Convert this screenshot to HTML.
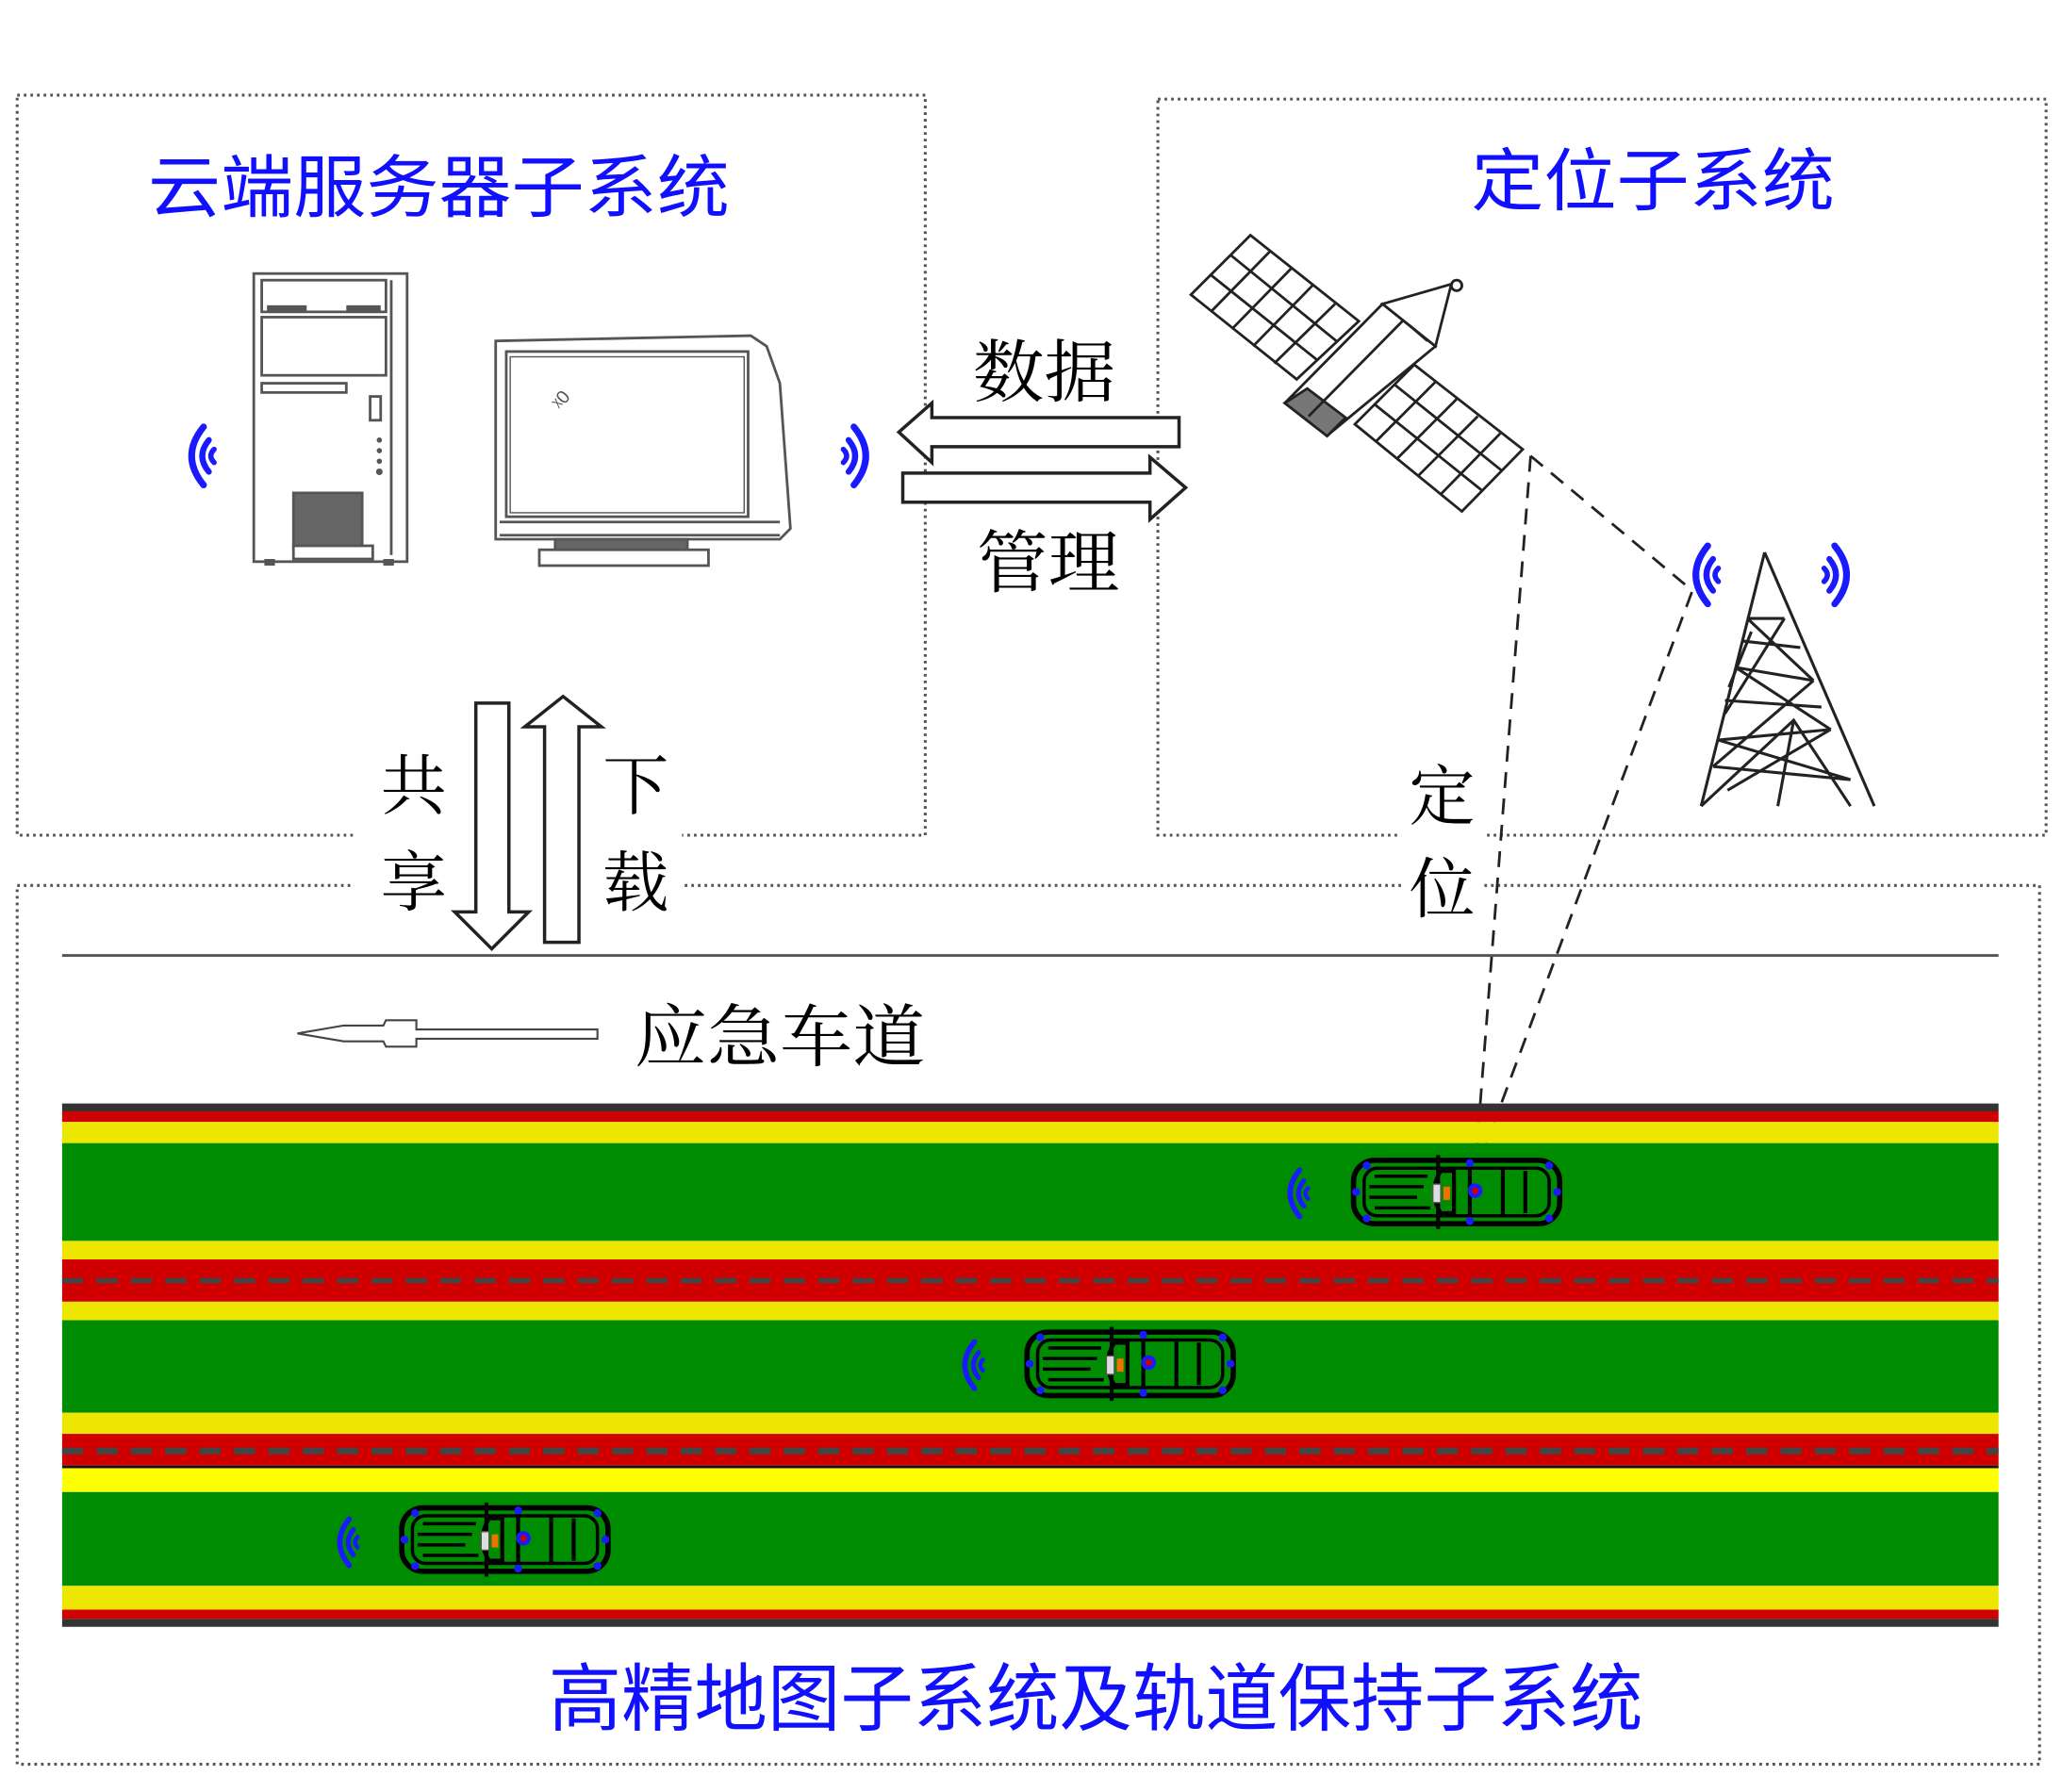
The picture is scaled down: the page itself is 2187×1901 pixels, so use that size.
<!DOCTYPE html>
<html><head><meta charset="utf-8"><style>
html,body{margin:0;padding:0;background:#fff;}
svg{display:block;}
.cn{font-family:"Liberation Serif","Noto Serif CJK SC","Noto Sans CJK SC",serif;}
.bl{font-family:"Liberation Sans","Noto Sans CJK SC",sans-serif;fill:#1010ff;}
</style></head><body>
<svg width="2187" height="1901" viewBox="0 0 1560 1356" xmlns="http://www.w3.org/2000/svg">
<defs>
<g id="wifiL" fill="none" stroke="#1a1aff" stroke-linecap="round">
  <path d="M14,-22 Q-4,0 14,22" stroke-width="5"/>
  <path d="M18,-12 Q8,0 18,12" stroke-width="4.5"/>
  <path d="M22,-5 Q17,0 22,5" stroke-width="4"/>
</g>
<g id="car">
  <rect x="2" y="4" width="156" height="48" rx="16" fill="#008c00" stroke="#000" stroke-width="4"/>
  <rect x="10" y="10" width="140" height="36" rx="10" fill="none" stroke="#000" stroke-width="2.5"/>
  <path d="M18,16 H58 M14,24 H55 M18,40 H60 M14,32 H50" stroke="#000" stroke-width="2.5"/>
  <path d="M68,12 Q58,28 68,44 L78,44 L78,12 Z" fill="#008c00" stroke="#000" stroke-width="3"/>
  <line x1="90" y1="8" x2="90" y2="48" stroke="#000" stroke-width="3"/>
  <line x1="115" y1="10" x2="115" y2="46" stroke="#000" stroke-width="3"/>
  <line x1="132" y1="12" x2="132" y2="44" stroke="#000" stroke-width="3"/>
  <line x1="66" y1="0" x2="66" y2="56" stroke="#000" stroke-width="3"/>
  <rect x="62" y="22" width="6" height="14" fill="#ddd" stroke="#555" stroke-width="1"/>
  <rect x="70" y="24" width="5" height="10" fill="#f07000"/>
  <circle cx="94" cy="27" r="4" fill="#c00" stroke="#1a1aff" stroke-width="3"/>
  <circle cx="4" cy="28" r="3" fill="#1a1aff"/><circle cx="156" cy="28" r="3" fill="#1a1aff"/>
  <circle cx="12" cy="8" r="3" fill="#1a1aff"/><circle cx="12" cy="48" r="3" fill="#1a1aff"/>
  <circle cx="150" cy="8" r="3" fill="#1a1aff"/><circle cx="150" cy="48" r="3" fill="#1a1aff"/>
  <circle cx="90" cy="6" r="3" fill="#1a1aff"/><circle cx="90" cy="50" r="3" fill="#1a1aff"/>
</g>
</defs>

<g fill="none" stroke="#555" stroke-width="2.2" stroke-dasharray="2 3">
  <rect x="13" y="72" width="687" height="560"/>
  <rect x="876" y="75" width="672" height="557"/>
  <rect x="13" y="670" width="1530" height="665"/>
</g>
<rect x="268" y="620" width="248" height="80" fill="#fff"/>
<rect x="1060" y="620" width="62" height="70" fill="#fff"/>

<text class="bl" x="112" y="160" font-size="52" textLength="440" lengthAdjust="spacingAndGlyphs">云端服务器子系统</text>
<text class="bl" x="1113" y="155" font-size="52" textLength="275" lengthAdjust="spacingAndGlyphs">定位子系统</text>
<text class="bl" x="415" y="1305" font-size="56" textLength="828" lengthAdjust="spacingAndGlyphs">高精地图子系统及轨道保持子系统</text>

<g fill="#fff" stroke="#555" stroke-width="2">
  <rect x="192" y="207" width="116" height="218"/>
  <rect x="198" y="212" width="94" height="24"/>
  <rect x="198" y="240" width="94" height="44"/>
  <rect x="198" y="290" width="64" height="7"/>
  <rect x="280" y="300" width="8" height="18"/>
  <rect x="222" y="373" width="52" height="42" fill="#666"/>
  <rect x="222" y="413" width="60" height="10"/>
  <line x1="296" y1="212" x2="296" y2="420"/>
</g>
<g fill="#555"><rect x="202" y="231" width="30" height="5"/><rect x="262" y="231" width="26" height="5"/><circle cx="287" cy="333" r="2"/><circle cx="287" cy="341" r="2"/><circle cx="287" cy="349" r="2"/><circle cx="287" cy="357" r="2.5"/><rect x="200" y="423" width="8" height="5"/><rect x="290" y="423" width="8" height="5"/></g>
<g fill="#fff" stroke="#555" stroke-width="2">
  <path d="M375,258 L568,254 L580,262 L590,290 L598,400 L590,408 L375,408 Z"/>
  <rect x="383" y="266" width="183" height="125"/>
  <rect x="386" y="270" width="177" height="118" stroke-width="1"/>
  <path d="M378,395 L590,395 M378,405 L590,405"/>
  <rect x="420" y="408" width="100" height="10" fill="#666"/>
  <rect x="408" y="416" width="128" height="12"/>
</g>
<text x="415" y="305" font-size="14" fill="#555" transform="rotate(-50 425 298)" font-family="Liberation Sans,sans-serif">ᵡ0</text>
<use href="#wifiL" x="140" y="345"/>
<use href="#wifiL" transform="translate(660,345) scale(-1,1)"/>

<path d="M892,316 L705,316 L705,305 L680,327 L705,350 L705,338 L892,338 Z" fill="#fff" stroke="#222" stroke-width="2.5"/>
<path d="M683,358 L870,358 L870,346 L897,369 L870,393 L870,380 L683,380 Z" fill="#fff" stroke="#222" stroke-width="2.5"/>
<text class="cn" x="736" y="300" font-size="52" textLength="108" lengthAdjust="spacingAndGlyphs">数据</text>
<text class="cn" x="739" y="444" font-size="52" textLength="108" lengthAdjust="spacingAndGlyphs">管理</text>

<path d="M360,532 L385,532 L385,690 L400,690 L372,718 L344,690 L360,690 Z" fill="#fff" stroke="#222" stroke-width="2.5"/>
<path d="M412,713 L438,713 L438,550 L455,550 L426,527 L397,550 L412,550 Z" fill="#fff" stroke="#222" stroke-width="2.5"/>
<text class="cn" x="288" y="612" font-size="50">共</text>
<text class="cn" x="288" y="685" font-size="50">享</text>
<text class="cn" x="456" y="612" font-size="50">下</text>
<text class="cn" x="456" y="685" font-size="50">载</text>
<text class="cn" x="1066" y="620" font-size="50">定</text>
<text class="cn" x="1066" y="690" font-size="50">位</text>

<g fill="#fff" stroke="#222" stroke-width="2">
  <polygon points="972,305 1046,230 1086,262 1006,328"/>
  <polygon points="1046,230 1098,215 1086,262"/>
  <polygon points="946,178 901,223 981,287 1028,243"/>
  <polygon points="1070,276 1025,321 1106,387 1152,340"/>
  <polygon points="972,305 989,294 1018,316 1004,330" fill="#777"/>
  <circle cx="1102" cy="216" r="4"/>
  <path d="M931,193 L1011,258 M916,208 L996,272 M961,190 L916,236 M977,203 L932,249 M993,216 L948,262 M1010,230 L964,275"/>
  <path d="M1055,291 L1136,356 M1040,306 L1121,371 M1086,289 L1041,334 M1102,302 L1057,347 M1118,315 L1073,360 M1135,328 L1090,374"/>
  <path d="M990,315 L1062,242 M1066,246 L1080,258"/>
</g>

<g fill="none" stroke="#222" stroke-width="2.2">
  <path d="M1335,418 L1287,610 M1335,418 L1418,610 M1287,610 L1357,545 L1400,610 M1357,545 L1345,610"/>
  <path d="M1322,468 L1350,468 M1313,505 L1372,515 M1300,560 L1385,552 M1296,580 L1400,590 M1322,468 L1372,515 M1350,468 L1305,540 M1313,505 L1385,552 M1372,515 L1296,580 M1300,560 L1400,590 M1385,552 L1307,598 M1318,485 L1362,490 M1305,530 L1378,535 M1325,478 L1308,520"/>
</g>
<use href="#wifiL" x="1278" y="435"/>
<use href="#wifiL" transform="translate(1402,435) scale(-1,1)"/>

<g fill="none" stroke="#222" stroke-width="2" stroke-dasharray="12 8">
  <path d="M1158,345 L1117,872"/>
  <path d="M1158,345 L1278,445"/>
  <path d="M1280,448 L1122,872"/>
</g>

<line x1="47" y1="723" x2="1512" y2="723" stroke="#555" stroke-width="2"/>
<path d="M225,782 L260,776 L290,776 L292,772 L315,772 L315,779 L452,779 L452,786 L315,786 L315,792 L292,792 L290,788 L260,788 Z" fill="#fff" stroke="#444" stroke-width="1.5"/>
<text class="cn" x="480" y="803" font-size="52" textLength="220" lengthAdjust="spacingAndGlyphs">应急车道</text>

<rect x="47" y="835" width="1465" height="6" fill="#333"/>
<rect x="47" y="841" width="1465" height="8" fill="#d00000"/>
<rect x="47" y="849" width="1465" height="16" fill="#ece600"/>
<rect x="47" y="865" width="1465" height="74" fill="#008c00"/>
<rect x="47" y="939" width="1465" height="14" fill="#ece600"/>
<rect x="47" y="953" width="1465" height="32" fill="#d00000"/>
<line x1="47" y1="969" x2="1512" y2="969" stroke="#444" stroke-width="4" stroke-dasharray="16 10"/>
<rect x="47" y="985" width="1465" height="14" fill="#ece600"/>
<rect x="47" y="999" width="1465" height="70" fill="#008c00"/>
<rect x="47" y="1069" width="1465" height="16" fill="#ece600"/>
<rect x="47" y="1085" width="1465" height="24" fill="#d00000"/>
<line x1="47" y1="1098" x2="1512" y2="1098" stroke="#444" stroke-width="5" stroke-dasharray="16 10"/>
<rect x="47" y="1109" width="1465" height="2" fill="#111"/>
<rect x="47" y="1111" width="1465" height="18" fill="#ffff00"/>
<rect x="47" y="1129" width="1465" height="71" fill="#008c00"/>
<rect x="47" y="1200" width="1465" height="18" fill="#ece600"/>
<rect x="47" y="1218" width="1465" height="7" fill="#d00000"/>
<rect x="47" y="1225" width="1465" height="6" fill="#333"/>

<use href="#car" x="1022" y="874"/>
<use href="#car" x="775" y="1004"/>
<use href="#car" x="302" y="1137"/>
<use href="#wifiL" transform="translate(972,903) scale(0.8)"/>
<use href="#wifiL" transform="translate(726,1033) scale(0.8)"/>
<use href="#wifiL" transform="translate(253,1167) scale(0.8)"/>
</svg>
</body></html>
